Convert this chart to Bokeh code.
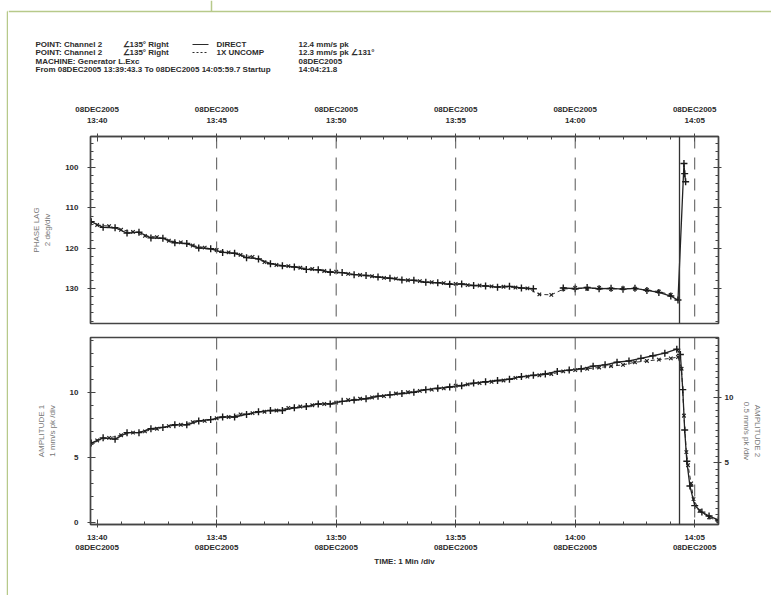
import numpy as np
from bokeh.plotting import figure
from bokeh.layouts import column, row
from bokeh.models import Range1d, LinearAxis, FixedTicker, Span
from bokeh.embed import file_html
from bokeh.resources import INLINE
from bokeh.core.properties import value

# ---------------- data (time in minutes after 13:40) ----------------
t_start = -16.7 / 60.0          # 13:39:43.3
t_end = 25 + 59.7 / 60.0        # 14:05:59.7
cursor_t = 24 + 21.8 / 60.0     # Startup 14:04:21.8

time_ticks = [0, 5, 10, 15, 20, 25]
time_minor = list(range(0, 26))
time_clock = ["13:40", "13:45", "13:50", "13:55", "14:00", "14:05"]
date_label = "08DEC2005"
grid_minutes = [5, 10, 15, 20, 25]

phase_ticks = [100, 110, 120, 130]
phase_minor = list(range(92, 140, 2))
amp_ticks = [0, 5, 10]
amp_minor = list(range(0, 15))
amp2_ticks = [5, 10]
amp2_minor = [x * 0.5 for x in range(0, 30)]

# Phase lag, DIRECT (deg)
t_dir_ph = [-0.25, 0.25, 0.75, 1.25, 1.75, 2.25, 2.75, 3.25, 3.75, 4.25, 4.75, 5.25,
            5.75, 6.25, 6.75, 7.25, 7.75, 8.25, 8.75, 9.25, 9.75, 10.25, 10.75, 11.25,
            11.75, 12.25, 12.75, 13.25, 13.75, 14.25, 14.75, 15.25, 15.75, 16.25, 16.75,
            17.25, 17.75, 18.25, 18.5, 19.5, 20.0, 20.5, 21.0, 21.5, 22.0, 22.5, 23.0,
            23.5, 24.0, 24.3, 24.55, 24.58, 24.62]
ph_dir = [113.4, 114.8, 114.9, 116.2, 116.0, 117.4, 117.5, 118.6, 118.8, 119.9, 120.1, 121.0,
          121.2, 122.3, 122.6, 123.8, 124.3, 124.6, 125.2, 125.3, 125.9, 126.0, 126.5, 126.7,
          127.1, 127.4, 127.8, 127.9, 128.4, 128.5, 128.9, 128.8, 129.2, 129.3, 129.6,
          129.4, 129.8, 130.0, np.nan, 129.8, 130.0, 129.7, 130.0, 129.9, 130.1, 129.9, 130.4,
          130.9, 131.8, 132.8, 99.0, 101.5, 103.5]

# Phase lag, 1X UNCOMP (deg)
t_1x_ph = [0.0, 0.5, 1.0, 1.5, 2.0, 2.5, 3.0, 3.5, 4.0, 4.5, 5.0, 5.5, 6.0, 6.5, 7.0, 7.5,
           8.0, 8.5, 9.0, 9.5, 10.0, 10.5, 11.0, 11.5, 12.0, 12.5, 13.0, 13.5, 14.0, 14.5,
           15.0, 15.5, 16.0, 16.5, 17.0, 17.5, 18.0, 18.5, 19.0, 19.5, 20.0, 20.5, 21.0,
           21.5, 22.0, 22.5, 23.0, 23.5, 24.0]
ph_1x = [114.2, 114.5, 115.4, 115.9, 116.9, 117.2, 118.1, 118.5, 119.3, 119.8, 120.4, 121.0,
         121.6, 122.1, 123.4, 124.1, 124.4, 124.8, 125.1, 125.6, 125.8, 126.3, 126.6, 126.9,
         127.3, 127.5, 127.9, 128.1, 128.4, 128.6, 128.8, 129.1, 129.2, 129.4, 129.5, 129.7,
         129.9, 131.4, 131.5, 130.1, 129.8, 130.0, 129.8, 130.1, 129.9, 130.0, 130.3, 130.7,
         131.5]

# Amplitude 1, DIRECT (mm/s pk)
t_dir_amp = [-0.25, 0.25, 0.75, 1.25, 1.75, 2.25, 2.75, 3.25, 3.75, 4.25, 4.75, 5.25, 5.75,
             6.25, 6.75, 7.25, 7.75, 8.25, 8.75, 9.25, 9.75, 10.25, 10.75, 11.25, 11.75,
             12.25, 12.75, 13.25, 13.75, 14.25, 14.75, 15.25, 15.75, 16.25, 16.75, 17.25,
             17.75, 18.25, 18.75, 19.25, 19.75, 20.25, 20.75, 21.25, 21.75, 22.25, 22.75,
             23.25, 23.75, 24.25, 24.40, 24.50, 24.58, 24.67, 24.80, 25.00, 25.30, 25.60, 25.99]
amp_dir = [6.1, 6.5, 6.4, 6.9, 6.9, 7.2, 7.3, 7.5, 7.5, 7.8, 7.9, 8.1, 8.1,
           8.3, 8.5, 8.6, 8.6, 8.8, 8.9, 9.1, 9.1, 9.3, 9.4, 9.5, 9.7,
           9.8, 9.9, 10.0, 10.2, 10.3, 10.4, 10.5, 10.7, 10.8, 10.9, 11.0,
           11.2, 11.3, 11.4, 11.6, 11.7, 11.8, 12.0, 12.1, 12.3, 12.4, 12.6,
           12.8, 13.0, 13.3, 12.9, 10.2, 7.1, 4.7, 2.8, 1.3, 0.8, 0.5, 0.2]

# Amplitude 1X UNCOMP (mm/s pk)
t_1x_amp = [0.0, 0.5, 1.0, 1.5, 2.0, 2.5, 3.0, 3.5, 4.0, 4.5, 5.0, 5.5, 6.0, 6.5, 7.0, 7.5,
            8.0, 8.5, 9.0, 9.5, 10.0, 10.5, 11.0, 11.5, 12.0, 12.5, 13.0, 13.5, 14.0, 14.5,
            15.0, 15.5, 16.0, 16.5, 17.0, 17.5, 18.0, 18.5, 19.0, 19.5, 20.0, 20.5, 21.0,
            21.5, 22.0, 22.5, 23.0, 23.5, 24.0, 24.3, 24.45, 24.55, 24.65, 24.72, 24.85,
            24.95, 25.2, 25.6, 25.99]
amp_1x = [6.3, 6.5, 6.7, 6.9, 7.0, 7.2, 7.4, 7.5, 7.7, 7.8, 8.0, 8.1, 8.3, 8.4, 8.5, 8.6,
          8.8, 8.9, 9.0, 9.1, 9.2, 9.4, 9.5, 9.6, 9.7, 9.9, 10.0, 10.1, 10.2, 10.3,
          10.5, 10.6, 10.7, 10.8, 10.9, 11.1, 11.2, 11.3, 11.4, 11.6, 11.7, 11.8, 11.9,
          12.0, 12.1, 12.3, 12.4, 12.5, 12.6, 12.7, 11.8, 8.2, 5.4, 4.4, 3.0,
          1.8, 0.9, 0.4, 0.1]

header_left = ["POINT: Channel 2", "POINT: Channel 2", "MACHINE: Generator L.Exc",
               "From 08DEC2005 13:39:43.3 To 08DEC2005 14:05:59.7 Startup"]
header_angle = ["\u2220135\u00b0 Right", "\u2220135\u00b0 Right"]
header_series = ["DIRECT", "1X UNCOMP"]
header_right = ["12.4 mm/s pk", "12.3 mm/s pk \u2220131\u00b0", "08DEC2005", "14:04:21.8"]

# ---------------- styling ----------------
FONT = "Liberation Sans"
INK = "#2b2b2b"
AX = "#444444"
GREEN = "#b7c98a"

W = 763          # main column width (page x 8..771)
x_range = Range1d(t_start, t_end)

def style_axis(ax, ticks, minor, overrides=None, show_labels=True):
    ax.ticker = FixedTicker(ticks=ticks, minor_ticks=minor)
    ax.axis_line_color = AX
    ax.axis_line_width = 1.3
    ax.major_tick_line_color = AX
    ax.minor_tick_line_color = AX
    ax.major_tick_in = 5
    ax.major_tick_out = 3
    ax.minor_tick_in = 3
    ax.minor_tick_out = 0
    ax.major_label_text_font = FONT
    ax.major_label_text_font_size = "8px"
    ax.major_label_text_font_style = "bold"
    ax.major_label_text_color = INK
    ax.axis_label_text_font = FONT
    ax.axis_label_text_font_size = "8px"
    ax.axis_label_text_font_style = "normal"
    ax.axis_label_text_color = "#777777"
    if overrides:
        ax.major_label_overrides = overrides
    if not show_labels:
        ax.major_label_text_alpha = 0

def blank(p):
    p.axis.visible = False
    p.grid.visible = False
    p.outline_line_color = None

# ---------------- left green rule ----------------
side = figure(width=8, height=595, x_range=Range1d(0, 8), y_range=Range1d(595, 0),
              toolbar_location=None, output_backend="svg", min_border=0, frame_align=False)
blank(side)
side.segment(x0=[7, 7], y0=[11, 11], x1=[7, 8], y1=[595, 11], line_color=GREEN, line_width=1.5)

# ---------------- header ----------------
hdr = figure(width=W, height=95, x_range=Range1d(8, 771), y_range=Range1d(95, 0),
             toolbar_location=None, output_backend="svg", min_border=0, frame_align=False)
blank(hdr)
hdr.segment(x0=[8, 211], y0=[11, 0], x1=[771, 211], y1=[11, 11],
            line_color=GREEN, line_width=1.5)
tkw = dict(text_font=value(FONT), text_font_size="8px", text_font_style="bold",
           text_color=INK, text_baseline="middle", text_align="left")
rows_y = [44, 52, 61, 69]
hdr.text(x=[35] * 4, y=rows_y, text=header_left, **tkw)
hdr.text(x=[122] * 2, y=rows_y[:2], text=header_angle, **tkw)
hdr.text(x=[216] * 2, y=rows_y[:2], text=header_series, **tkw)
hdr.text(x=[298] * 4, y=rows_y, text=header_right, **tkw)
hdr.line(x=[192, 208], y=[44, 44], line_color=INK, line_width=1)
hdr.line(x=[192, 208], y=[52, 52], line_color=INK, line_width=1, line_dash="2 2")

# ---------------- phase plot ----------------
top = figure(width=W, height=234, x_range=x_range, y_range=Range1d(138.6, 92.3),
             x_axis_location="above", toolbar_location=None, output_backend="svg",
             min_border_left=82, min_border_right=53, min_border_top=41, min_border_bottom=6)
top.grid.visible = False
top.outline_line_color = AX
top.outline_line_width = 1.5
style_axis(top.xaxis[0], time_ticks, time_minor,
           {t: date_label + "\n" + c for t, c in zip(time_ticks, time_clock)})
top.xaxis[0].major_label_standoff = 9
style_axis(top.yaxis[0], phase_ticks, phase_minor)
top.yaxis[0].axis_label = "PHASE LAG\n2 deg/div"
top.yaxis[0].major_label_standoff = 9
top.yaxis[0].axis_label_standoff = 10
r_ax = LinearAxis()
style_axis(r_ax, phase_ticks, phase_minor, show_labels=False)
top.add_layout(r_ax, "right")
for m in grid_minutes:
    top.add_layout(Span(location=m, dimension="height", line_color="#555555",
                        line_width=1, line_dash="12 9"))
top.add_layout(Span(location=cursor_t, dimension="height", line_color="#333333", line_width=1.3))
top.line(t_1x_ph, ph_1x, line_color="#333333", line_width=1, line_dash="4 3")
top.scatter(t_1x_ph, ph_1x, marker="x", size=5, line_color="#222222", line_width=1.2)
top.line(t_dir_ph, ph_dir, line_color="#222222", line_width=1.3)
top.scatter(t_dir_ph, ph_dir, marker="cross", size=7, line_color="#1a1a1a", line_width=1.4)

# ---------------- amplitude plot ----------------
bot = figure(width=W, height=266, x_range=x_range, y_range=Range1d(-0.15, 14.2),
             toolbar_location=None, output_backend="svg",
             min_border_left=82, min_border_right=53, min_border_top=8, min_border_bottom=71)
bot.grid.visible = False
bot.outline_line_color = AX
bot.outline_line_width = 1.5
style_axis(bot.xaxis[0], time_ticks, time_minor,
           {t: c + "\n" + date_label for t, c in zip(time_ticks, time_clock)})
bot.xaxis[0].axis_label = "TIME: 1 Min /div"
bot.xaxis[0].axis_label_text_font_style = "bold"
bot.xaxis[0].axis_label_text_color = INK
bot.xaxis[0].axis_label_standoff = 2
bot.xaxis[0].major_label_standoff = 5
style_axis(bot.yaxis[0], amp_ticks, amp_minor)
bot.yaxis[0].axis_label = "AMPLITUDE 1\n1 mm/s pk /div"
bot.yaxis[0].major_label_standoff = 9
bot.yaxis[0].axis_label_standoff = 10
bot.extra_y_ranges = {"amp2": Range1d(0.25, 14.6)}
r2 = LinearAxis(y_range_name="amp2")
style_axis(r2, amp2_ticks, amp2_minor)
r2.axis_label = "AMPLITUDE 2\n0.5 mm/s pk /div"
r2.axis_label_standoff = 6
r2.major_label_standoff = 3
bot.add_layout(r2, "right")
for m in grid_minutes:
    bot.add_layout(Span(location=m, dimension="height", line_color="#555555",
                        line_width=1, line_dash="12 9"))
bot.add_layout(Span(location=cursor_t, dimension="height", line_color="#333333", line_width=1.3))
bot.line(t_1x_amp, amp_1x, line_color="#333333", line_width=1, line_dash="4 3")
bot.scatter(t_1x_amp, amp_1x, marker="x", size=5, line_color="#222222", line_width=1.2)
bot.line(t_dir_amp, amp_dir, line_color="#222222", line_width=1.3)
bot.scatter(t_dir_amp, amp_dir, marker="cross", size=7, line_color="#1a1a1a", line_width=1.4)

layout = row(side, column(hdr, top, bot, spacing=0), spacing=0)
open("out.html", "w").write(file_html(layout, INLINE))
